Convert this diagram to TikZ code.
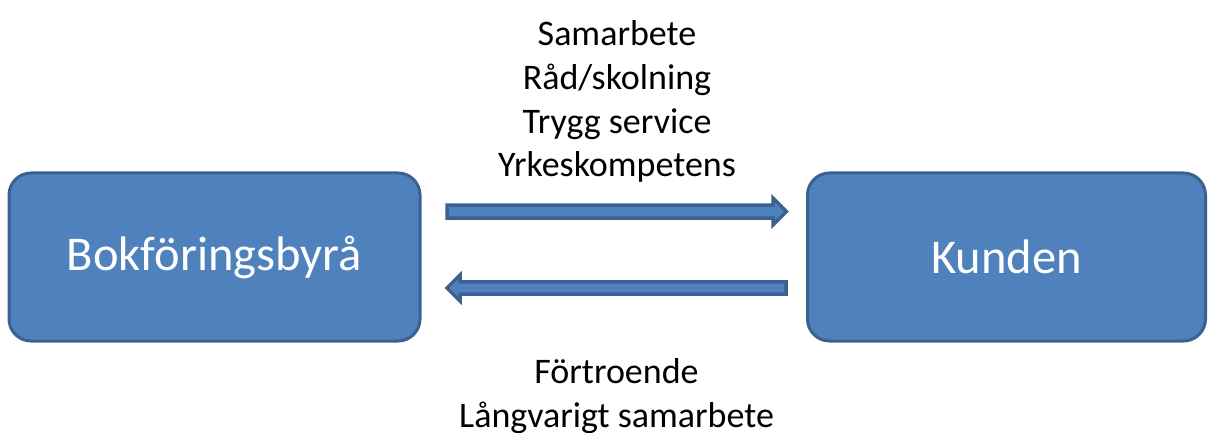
\documentclass[tikz,border=0pt]{standalone}
\usepackage{fontspec}
\setmainfont{Carlito}
\definecolor{boxfill}{HTML}{4F81BD}
\definecolor{boxline}{HTML}{3A6190}
\tikzset{
  party/.style={draw=boxline, line width=3pt, fill=boxfill, rounded corners=22pt,
    minimum width=411pt, minimum height=168pt, inner sep=0pt,
    text=white, font=\fontsize{48.5}{58}\selectfont},
  lbl/.style={align=center, inner sep=0pt, text=black,
    font=\fontsize{36}{43.7}\selectfont},
  blockarrow/.style={draw=boxline, line width=3.5pt, fill=boxfill, line join=miter}
}
\begin{document}
\begin{tikzpicture}[x=1pt,y=-1pt]
\useasboundingbox (0,0) rectangle (1208,433);
\node[party] (byra) at (214.5,257) {Bokföringsbyrå};
\node[party, minimum width=398pt] (kund) at (1006.5,257) {Kunden};
% connectors (block arrows)
\coordinate (a1s) at (447,211.5);
\coordinate (a1e) at (786.5,211.5);
\coordinate (a2s) at (786,288);
\coordinate (a2e) at (447,288);
\path[blockarrow] ([yshift=-6.5pt]a1s) -- ([xshift=-13.5pt,yshift=-6.5pt]a1e) -- ([xshift=-13.5pt,yshift=-13.5pt]a1e)
  -- (a1e) -- ([xshift=-13.5pt,yshift=13.5pt]a1e) -- ([xshift=-13.5pt,yshift=6.5pt]a1e) -- ([yshift=6.5pt]a1s) -- cycle;
\path[blockarrow] ([yshift=-6.2pt]a2s) -- ([xshift=13pt,yshift=-6.2pt]a2e) -- ([xshift=13pt,yshift=-13pt]a2e)
  -- (a2e) -- ([xshift=13pt,yshift=13pt]a2e) -- ([xshift=13pt,yshift=6.2pt]a2e) -- ([yshift=6.2pt]a2s) -- cycle;
\node[lbl, anchor=base] (top) at (617,177) {Samarbete\\Råd/skolning\\Trygg service\\Yrkeskompetens};
\node[lbl, anchor=base] (bot) at (616.5,427) {Förtroende\\Långvarigt samarbete};
\end{tikzpicture}
\end{document}
